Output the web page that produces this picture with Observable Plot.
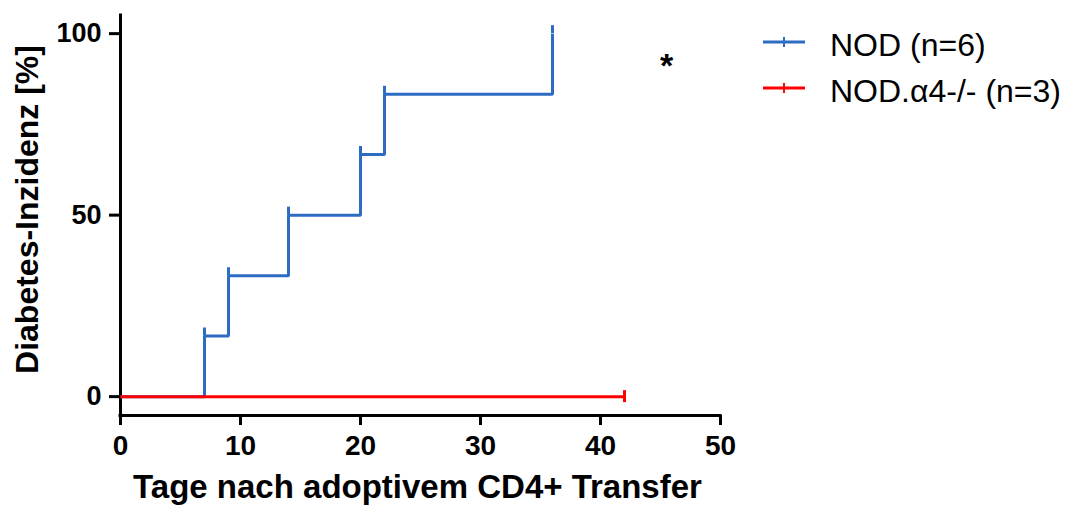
<!DOCTYPE html>
<html>
<head>
<meta charset="utf-8">
<script src="https://cdn.jsdelivr.net/npm/d3@7"></script>
<script src="https://cdn.jsdelivr.net/npm/@observablehq/plot@0.6"></script>
<style>
  html, body { margin: 0; padding: 0; background: #fff; }
  #wrap { position: relative; width: 1078px; height: 506px; font-family: "Liberation Sans", Arial, sans-serif; }
  #wrap svg.plot { position: absolute; left: 0; top: 0; }
  .legend-row { position: absolute; left: 763px; height: 40px; }
  .legend-row svg { position: absolute; left: 0; }
  .legend-row span { position: absolute; left: 67px; top: 0; font-size: 32px; line-height: 32px; white-space: nowrap; color: #000; }
  #sig { position: absolute; left: 660px; top: 48px; font-size: 34px; line-height: 34px; font-weight: bold; }
</style>
</head>
<body>
<div id="wrap"></div>
<script>
// Diabetes incidence after adoptive CD4+ transfer (cumulative %, step curve)
const nodDays = [0, 7, 9, 14, 20, 22, 36];
const nodIncidence = [0, 16.7, 33.3, 50, 66.7, 83.3, 100];
const a4Days = [0, 42];
const a4Incidence = [0, 0];
const a4CensorDays = [42];
const a4CensorIncidence = [0];

const seriesNames = ["NOD (n=6)", "NOD.\u03b14-/- (n=3)"];
const seriesColors = ["#2e6cc4", "#ff0000"];

const xTicks = [0, 10, 20, 30, 40, 50];
const yTicks = [0, 50, 100];
const xLabel = "Tage nach adoptivem CD4+ Transfer";
const yLabel = "Diabetes-Inzidenz [%]";
const significance = "*";

const xDomain = [0, 50];
const yDomain = [-5.2, 105];

const nod = nodDays.map((d, i) => ({day: d, value: nodIncidence[i]}));
const nodEvents = nod.slice(1);
const a4 = a4Days.map((d, i) => ({day: d, value: a4Incidence[i]}));
const a4Censor = a4CensorDays.map((d, i) => ({day: d, value: a4CensorIncidence[i]}));

const font = "'Liberation Sans', Arial, sans-serif";

const chart = Plot.plot({
  width: 1078,
  height: 506,
  marginLeft: 120,
  marginRight: 358,
  marginTop: 15,
  marginBottom: 91,
  style: {fontFamily: font, background: "transparent", overflow: "visible"},
  x: {domain: xDomain, axis: null},
  y: {domain: yDomain, axis: null},
  marks: [
    Plot.axisX({ticks: xTicks, tickSize: 10, tickPadding: 10, strokeWidth: 3,
      fontSize: 28, fontWeight: "bold", label: null, tickFormat: d3.format("d")}),
    Plot.axisY({ticks: yTicks, tickSize: 11, tickPadding: 8, strokeWidth: 3,
      fontSize: 27, fontWeight: "bold", label: null, tickFormat: d3.format("d")}),
    Plot.ruleX([xDomain[0]], {stroke: "#000", strokeWidth: 3, strokeLinecap: "square"}),
    Plot.ruleY([yDomain[0]], {stroke: "#000", strokeWidth: 3, strokeLinecap: "square"}),
    // NOD step curve with event ticks
    Plot.line(nod, {x: "day", y: "value", curve: "step-after", stroke: seriesColors[0],
      strokeWidth: 3, strokeLinejoin: "miter", strokeLinecap: "butt"}),
    Plot.ruleX(nodEvents, {x: "day", y1: "value", y2: "value", insetTop: -8,
      stroke: seriesColors[0], strokeWidth: 3}),
    // NOD.a4-/- curve with censor tick
    Plot.line(a4, {x: "day", y: "value", stroke: seriesColors[1], strokeWidth: 3,
      strokeLinecap: "butt"}),
    Plot.ruleX(a4Censor, {x: "day", y1: "value", y2: "value", insetTop: -6, insetBottom: -6,
      stroke: seriesColors[1], strokeWidth: 3}),
    // axis titles
    Plot.text([xLabel], {frameAnchor: "bottom", text: d => d, dx: -3, dy: 72,
      textAnchor: "middle", lineAnchor: "middle", fontSize: 33, fontWeight: "bold", fill: "#000"}),
    Plot.text([yLabel], {frameAnchor: "left", text: d => d, rotate: -90, dx: -93, dy: -6,
      textAnchor: "middle", lineAnchor: "middle", fontSize: 32, fontWeight: "bold", fill: "#000"})
  ]
});
chart.classList.add("plot");

const wrap = document.getElementById("wrap");
wrap.appendChild(chart);

// legend
const rowTops = [22, 68];
seriesNames.forEach((name, i) => {
  const row = document.createElement("div");
  row.className = "legend-row";
  row.style.top = rowTops[i] + "px";
  const sw = d3.create("svg").attr("width", 42).attr("height", 14)
    .style("top", "13px");
  sw.append("line").attr("x1", 0).attr("x2", 42).attr("y1", 7).attr("y2", 7)
    .attr("stroke", seriesColors[i]).attr("stroke-width", 3);
  sw.append("line").attr("x1", 21).attr("x2", 21).attr("y1", 2).attr("y2", 12)
    .attr("stroke", seriesColors[i]).attr("stroke-width", 2);
  row.appendChild(sw.node());
  const label = document.createElement("span");
  label.style.top = "7px";
  label.textContent = name;
  row.appendChild(label);
  wrap.appendChild(row);
});

const sig = document.createElement("div");
sig.id = "sig";
sig.textContent = significance;
wrap.appendChild(sig);
</script>
</body>
</html>
